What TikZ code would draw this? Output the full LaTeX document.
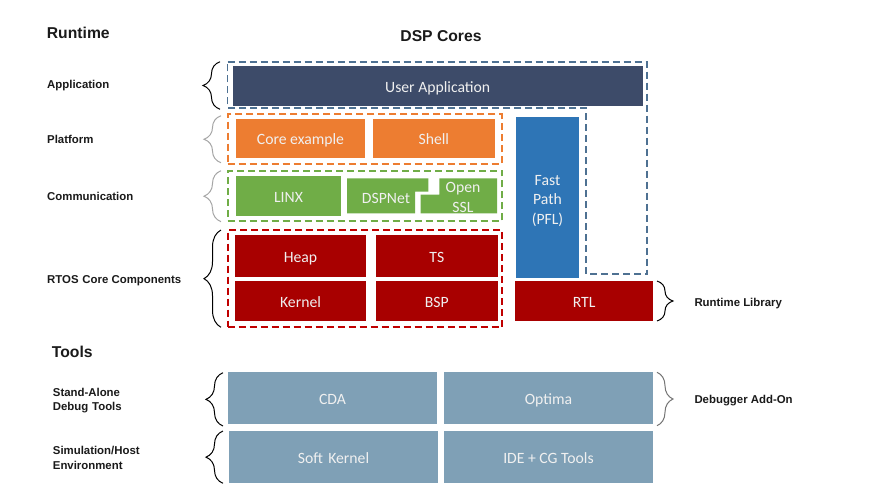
\documentclass[tikz,border=0pt]{standalone}
\usepackage{fontspec}
\setmainfont{Liberation Sans}
\newfontfamily\boxfont{Carlito}
\usetikzlibrary{decorations.pathreplacing}
\definecolor{navy}{HTML}{3D4B69}
\definecolor{orng}{HTML}{ED7D31}
\definecolor{grn}{HTML}{70AD47}
\definecolor{dred}{HTML}{A80000}
\definecolor{dredline}{HTML}{C00000}
\definecolor{fblue}{HTML}{2E75B6}
\definecolor{tgray}{HTML}{7FA0B6}
\definecolor{dblue}{HTML}{4E7192}
\definecolor{bracegray}{HTML}{A6A6A6}
\definecolor{labtext}{HTML}{1A1A1A}
\begin{document}
\begin{tikzpicture}[x=1pt,y=-1pt,
  blkm/.style={draw=none, inner sep=0pt, text=white!94!black, font=\boxfont\fontsize{15.7}{19.3}\selectfont, align=center},
  blk/.style={blkm, text height=12.5pt, text depth=0pt},
  dashbox/.style={draw, line width=1.8pt, dash pattern=on 7pt off 4pt, inner sep=0pt},
  lab/.style={font=\bfseries\fontsize{11.4}{14}\selectfont, anchor=base west, inner sep=0pt, text=labtext},
  ttl/.style={font=\bfseries\fontsize{15.7}{18}\selectfont, inner sep=0pt, text=labtext},
  brc/.style={decorate, decoration={brace, amplitude=17pt}, line width=1pt},
]
\useasboundingbox[fill=white] (0,0) rectangle (887,499);

% titles
\node[ttl, anchor=base west] (runtime) at (46.7,38.9) {Runtime};
\node[ttl, anchor=base] (dspcores) at (441,41.6) {DSP Cores};
\node[ttl, anchor=base west] (tools) at (51.7,357) {Tools};

% left labels
\node[lab] (lapp) at (47,88.4) {Application};
\node[lab] (lplat) at (47,143.4) {Platform};
\node[lab] (lcomm) at (47,200.1) {Communication};
\node[lab] (lrtos) at (47,283.4) {RTOS\,\,Core Components};
\node[lab] (lsa1) at (52.7,396.8) {Stand-Alone};
\node[lab] (lsa2) at (52.7,410.8) {Debug\,\,Tools};
\node[lab] (lsim1) at (52.7,454.1) {Simulation/Host};
\node[lab] (lsim2) at (52.7,469) {Environment};
\node[lab] (lrtl) at (694.3,306.4) {Runtime Library};
\node[lab] (ldbg) at (694.3,403.4) {Debugger Add-On};

% blue dashed outline (DSP cores application area)
\draw[dashbox, draw=dblue] (227.5,61.7) -- (646.7,61.7) -- (646.7,274.3) -- (586,274.3) -- (586,107.7) -- (227.5,107.7) -- cycle;

% dashed group boxes
\node[dashbox, draw=orng, minimum width=274pt, minimum height=49.7pt] (platbox) at (364.7,139.15) {};
\node[dashbox, draw=grn, minimum width=274.6pt, minimum height=49.7pt] (commbox) at (365,195.85) {};
\node[dashbox, draw=dredline, minimum width=274.6pt, minimum height=97.3pt] (rtosbox) at (365,278.65) {};

% application
\node[blk, fill=navy, minimum width=410pt, minimum height=39.7pt] (userapp) at (437.7,85.85) {User Application};

% platform
\node[blk, fill=orng, minimum width=129pt, minimum height=39.3pt] (core) at (300.5,138.65) {Core example};
\node[blk, fill=orng, minimum width=122.3pt, minimum height=39.3pt] (shell) at (433.85,138.65) {Shell};

% fast path
\node[blkm, fill=fblue, minimum width=63pt, minimum height=161pt] (fastpath) at (547.5,197.2) {};
\node[blkm] (fptext) at (547.5,200.8) {Fast\\Path\\(PFL)};

% communication
\node[blk, fill=grn, minimum width=105pt, minimum height=39.7pt] (linx) at (288.5,195.85) {LINX};
\fill[grn] (347,178.3) -- (428.3,178.3) -- (428.3,191.7) -- (415,191.7) -- (415,213.3) -- (347,213.3) -- cycle;
\fill[grn] (439.3,178.3) -- (497,178.3) -- (497,213.3) -- (420.7,213.3) -- (420.7,194.5) -- (439.3,194.5) -- cycle;
\node[blkm] (dspnet) at (386,198) {DSPNet};
\node[blkm] (openssl) at (463,197.5) {Open\\SSL};

% RTOS core components
\node[blk, fill=dred, minimum width=131pt, minimum height=42.3pt] (heap) at (300.5,256.15) {Heap};
\node[blk, fill=dred, minimum width=121.7pt, minimum height=42.3pt] (ts) at (436.85,256.15) {TS};
\node[blk, fill=dred, minimum width=131pt, minimum height=39.7pt] (kernel) at (300.5,300.85) {Kernel};
\node[blk, fill=dred, minimum width=121.7pt, minimum height=39.7pt] (bsp) at (436.85,300.85) {BSP};
\node[blk, fill=dred, minimum width=138.3pt, minimum height=39.7pt] (rtl) at (584.15,300.85) {RTL};

% tools
\node[blk, fill=tgray, minimum width=208.4pt, minimum height=52pt] (cda) at (332.5,398.3) {CDA};
\node[blk, fill=tgray, minimum width=208.4pt, minimum height=52pt] (optima) at (548.5,398.3) {Optima};
\node[blk, fill=tgray, minimum width=208.4pt, minimum height=52.3pt] (softk) at (333.5,457.15) {Soft\,\,Kernel};
\node[blk, fill=tgray, minimum width=208.4pt, minimum height=52.3pt] (ide) at (548.5,457.15) {IDE + CG Tools};

% braces
\coordinate (bAppB) at (220,109.3);   \coordinate (bAppT) at (220,61.7);
\coordinate (bPlatB) at (221,162.7);  \coordinate (bPlatT) at (221,115.7);
\coordinate (bCommB) at (221,221.7);  \coordinate (bCommT) at (221,170.7);
\coordinate (bRtosB) at (221,327.3);  \coordinate (bRtosT) at (221,230);
\coordinate (bSaB) at (223,426);      \coordinate (bSaT) at (223,372.7);
\coordinate (bSimB) at (223,483.3);   \coordinate (bSimT) at (223,431);
\coordinate (bRtlT) at (657,281);     \coordinate (bRtlB) at (657,321);
\coordinate (bDbgT) at (657,372.3);   \coordinate (bDbgB) at (657,425.7);

\draw[brc, draw=black] (bAppB) -- (bAppT);
\draw[brc, draw=bracegray] (bPlatB) -- (bPlatT);
\draw[brc, draw=bracegray] (bCommB) -- (bCommT);
\draw[brc, draw=black] (bRtosB) -- (bRtosT);
\draw[brc, draw=black] (bSaB) -- (bSaT);
\draw[brc, draw=black] (bSimB) -- (bSimT);
\draw[brc, draw=black, decoration={amplitude=16pt}] (bRtlT) -- (bRtlB);
\draw[brc, draw=bracegray!70!black, decoration={amplitude=16pt}] (bDbgT) -- (bDbgB);
\end{tikzpicture}
\end{document}
